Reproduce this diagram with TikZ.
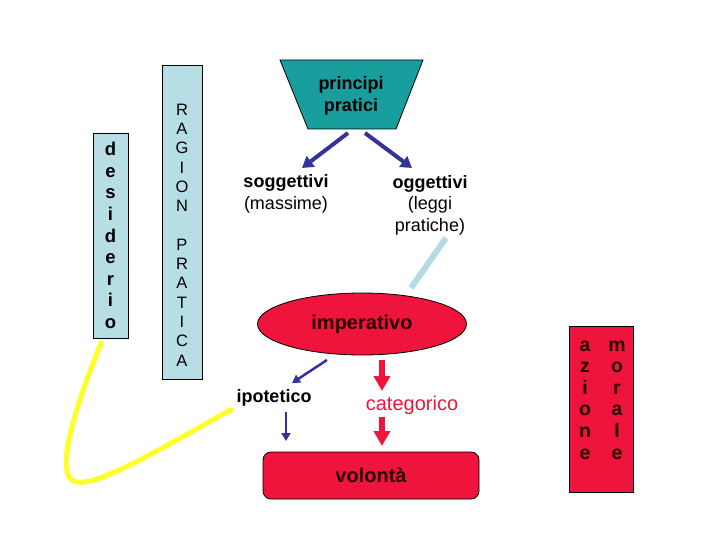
\documentclass[tikz,border=0pt]{standalone}
\usepackage{fontspec}
\setmainfont{Liberation Sans}
\usetikzlibrary{arrows.meta,shapes.geometric}
\definecolor{lblue}{RGB}{183,222,228}
\definecolor{lline}{RGB}{178,220,226}
\definecolor{teal1}{RGB}{25,158,158}
\definecolor{red1}{RGB}{238,20,60}
\definecolor{navy1}{RGB}{51,51,153}
\definecolor{yel}{RGB}{255,255,40}
\definecolor{dk}{RGB}{40,0,0}
\begin{document}
\begin{tikzpicture}[x=1pt,y=-1pt,
  vbox/.style={draw=black,line width=0.8pt,fill=lblue,inner sep=0pt},
  redbox/.style={draw=black,line width=0.8pt,fill=red1,inner sep=0pt},
  txt/.style={inner sep=0pt,align=center},
  bluearrow/.style={draw=navy1,line width=4pt,-{Triangle[length=11pt,width=13pt]}},
  thinblue/.style={draw=navy1,line width=2.5pt,-{Triangle[length=8pt,width=9pt]}},
  redarrow/.style={draw=red1,line width=6pt,-{Triangle[length=15pt,width=16pt]}},
]
\useasboundingbox (0,0) rectangle (720,540);

% desiderio
\node[vbox,minimum width=35pt,minimum height=205pt,
      font=\fontsize{18.5}{21.6}\selectfont\bfseries,align=center] (des) at (110.5,235.5)
  {d\\e\\s\\i\\d\\e\\r\\i\\o};

% ragion pratica
\node[vbox,minimum width=40pt,minimum height=314pt] (rag) at (182,222) {};
\node[txt,font=\fontsize{16.5}{19.3}\selectfont] (ragt) at (182,235)
  {R\\A\\G\\I\\O\\N\\[19.3pt]P\\R\\A\\T\\I\\C\\A};

% principi pratici
\draw[draw=black,line width=0.8pt,fill=teal1] (280,60) -- (423,60) -- (396,129) -- (308,129) -- cycle;
\node[txt,font=\fontsize{18}{21.6}\selectfont\bfseries] (pp) at (351,96) {principi\\pratici};

% soggettivi / oggettivi
\node[txt,font=\fontsize{18}{21.6}\selectfont] (sog) at (286,194) {\textbf{soggettivi}\\(massime)};
\node[txt,font=\fontsize{18}{21.6}\selectfont] (ogg) at (430,205) {\textbf{oggettivi}\\(leggi\\pratiche)};

% imperativo
\node[ellipse,redbox,minimum width=209pt,minimum height=62pt,
      font=\fontsize{20}{24}\selectfont\bfseries,text=dk] (imp) at (362,324) {imperativo};

\node[txt,font=\fontsize{18}{21.6}\selectfont\bfseries] (ipo) at (274,398) {ipotetico};
\node[txt,font=\fontsize{20}{24}\selectfont,text=red1] (cat) at (412,405) {categorico};

% volonta
\node[redbox,rounded corners=8pt,minimum width=216pt,minimum height=47pt,
      font=\fontsize{20}{24}\selectfont\bfseries,text=dk] (vol) at (371,475.5) {volontà};

% azione morale
\node[redbox,minimum width=64pt,minimum height=166pt] (az) at (601,409) {};
\node[txt,font=\fontsize{19.5}{21.6}\selectfont\bfseries,text=dk] (az1) at (585,400) {a\\z\\i\\o\\n\\e};
\node[txt,font=\fontsize{19.5}{21.6}\selectfont\bfseries,text=dk] (az2) at (617,400) {m\\o\\r\\a\\l\\e};

% connector end points
\coordinate (b1s) at (348,133); \coordinate (b1e) at (302,168);
\coordinate (b2s) at (365,133); \coordinate (b2e) at (412,168);
\coordinate (lls) at (446,238); \coordinate (lle) at (411,288);
\coordinate (b3s) at (327,360); \coordinate (b3e) at (292,383);
\coordinate (r1s) at (382,360); \coordinate (r1e) at (382,391);
\coordinate (b4s) at (286,412); \coordinate (b4e) at (286,441);
\coordinate (r2s) at (382,417); \coordinate (r2e) at (382,446);
\coordinate (ys) at (101,343); \coordinate (ye) at (234,408);

\draw[bluearrow] (b1s) -- (b1e);
\draw[bluearrow] (b2s) -- (b2e);
\draw[draw=lline,line width=6pt] (lls) -- (lle);
\draw[thinblue] (b3s) -- (b3e);
\draw[redarrow] (r1s) -- (r1e);
\draw[thinblue] (b4s) -- (b4e);
\draw[redarrow] (r2s) -- (r2e);
\draw[draw=yel,line width=5pt,line cap=round,-{Triangle[length=6pt,width=8pt]}]
  (ys) .. controls (70,420) and (58,470) .. (72,480)
       .. controls (88,492) and (150,455) .. (ye);
\end{tikzpicture}
\end{document}
